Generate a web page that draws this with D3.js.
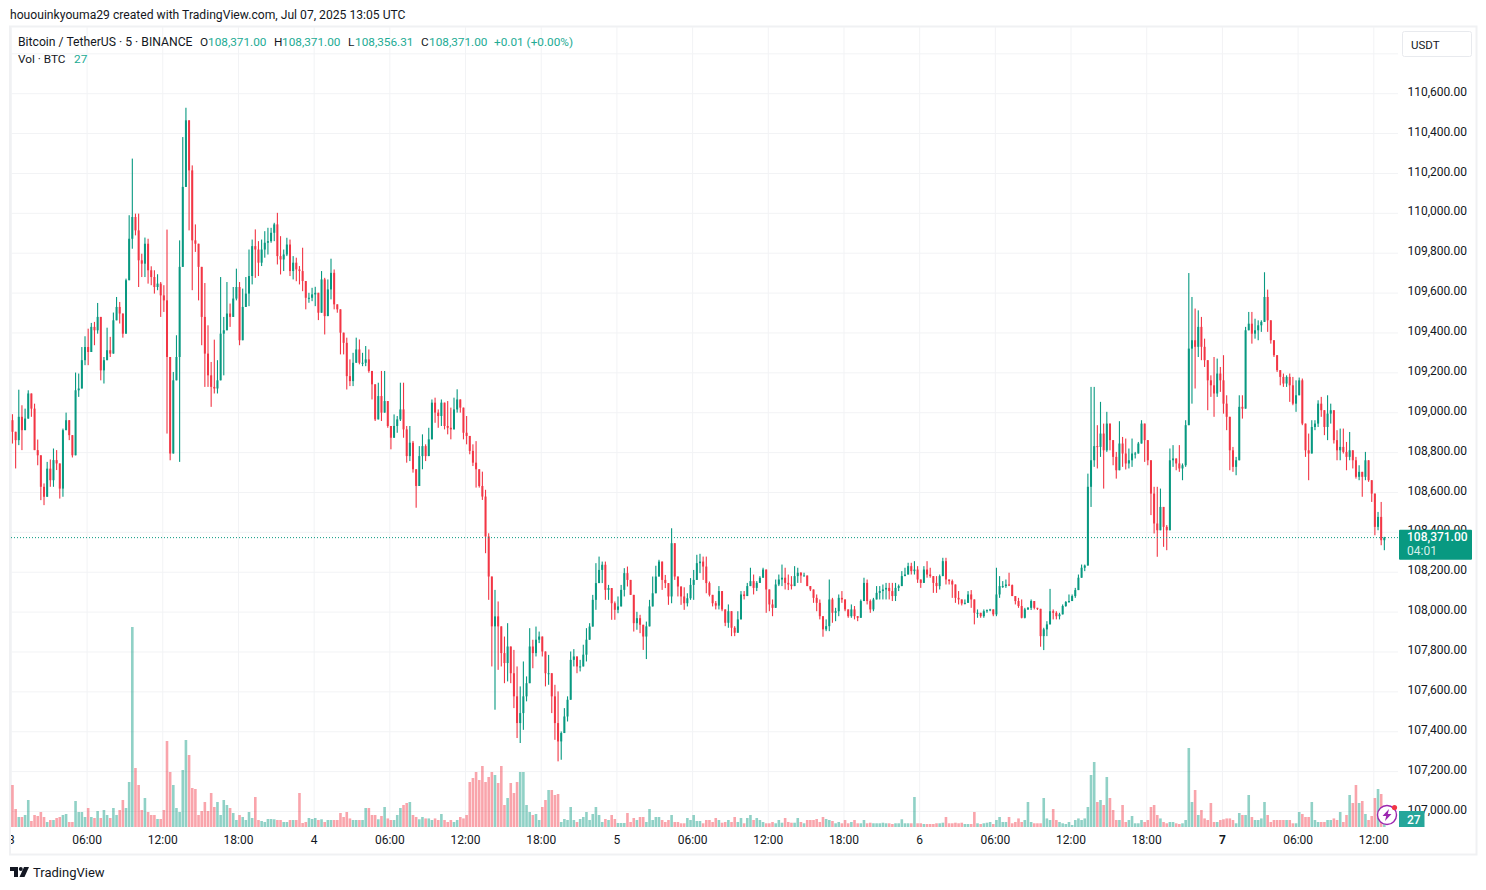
<!DOCTYPE html>
<html>
<head>
<meta charset="utf-8">
<script src="https://cdn.jsdelivr.net/npm/d3@7"></script>
<style>
  html, body { margin: 0; padding: 0; background: #fff; }
  text { font-family: Roboto, sans-serif; fill: #131722; }
</style>
</head>
<body>
<div id="wrapper"></div>
<script>
// 15 minute bars, starting Jul 3 00:00 UTC
const firstOpen = 108960

const highs = [
  108990,108885,109113,109035,109018,109110,109043,109043,108863,108726,
  108643,108751,108763,108818,108810,108701,108918,108998,108951,108873,
  109199,109194,109327,109381,109419,109448,109453,109548,109361,109277,
  109424,109378,109500,109578,109553,109445,109670,109988,110272,109996,
  109996,109795,109876,109870,109732,109712,109692,109653,109637,109916,
  109068,109202,109386,109862,110380,110527,110372,110238,109942,109829,
  109729,109648,109436,109252,109364,109261,109678,109478,109653,109545,
  109628,109720,109653,109620,109678,109816,109866,109917,109858,109866,
  109908,109925,109925,109950,110000,109883,109816,109875,109866,109783,
  109775,109733,109825,109616,109599,109624,109629,109591,109708,109674,
  109666,109770,109716,109541,109499,109374,109374,109265,109298,109374,
  109365,109298,109332,109315,109207,109073,109148,109207,109207,109048,
  108931,108989,108981,109148,109148,108931,108931,108856,108680,108830,
  108889,108839,108922,109064,109073,109014,109064,109023,109056,109023,
  109073,109115,109056,109023,108981,108864,108839,108855,108714,108702,
  108611,108393,108059,108109,108051,107892,107875,107942,107825,107808,
  107725,107625,107750,107675,107917,107859,107925,107900,107875,107800,
  107783,107675,107633,107600,107399,107516,107575,107800,107812,107775,
  107758,107834,107917,107942,108084,108243,108276,108251,108251,108134,
  108118,108051,108076,108134,108218,108226,108159,108084,107999,107984,
  107934,107950,108059,108176,108230,108260,108226,108184,108109,108418,
  108293,108176,108126,108122,108092,108168,108209,108285,108290,108276,
  108276,108151,108076,108053,108128,108061,107986,108036,107944,107927,
  108002,108103,108103,108144,108220,108186,108153,108178,108220,108211,
  108078,108061,108161,108186,108236,108220,108186,108178,108228,108220,
  108198,108195,108178,108128,108111,108086,108061,107977,107961,108161,
  108069,108019,108086,108103,108061,108011,108036,108028,107977,108061,
  108170,108161,108061,108069,108128,108128,108136,108144,108144,108144,
  108144,108136,108203,108220,108245,108245,108253,108228,108161,108228,
  108253,108220,108178,108178,108186,108270,108270,108161,108161,108111,
  108103,108061,108061,108103,108108,108019,108011,107986,108011,108011,
  108014,108011,108220,108178,108153,108161,108195,108136,108078,108069,
  108061,108019,108023,108061,108053,108019,108014,107919,107952,108114,
  108011,108002,107994,108036,108053,108086,108086,108119,108186,108236,
  108236,108692,109127,109127,108935,109052,108943,109002,108943,108826,
  108801,108955,108876,108868,108818,108868,108801,108851,108960,108926,
  108826,108726,108626,108626,108617,108509,108434,108818,108835,108759,
  108835,108743,108960,109698,109578,109520,109511,109478,109369,109236,
  109185,109277,109269,109227,109286,109085,108943,108826,108776,109085,
  109085,109428,109503,109503,109469,109461,109461,109702,109615,109444,
  109361,109286,109202,109194,109185,109194,109177,109160,109174,109169,
  108943,108893,108960,108960,109060,109077,109010,109085,109043,109010,
  108910,108918,108918,108851,108901,108801,108776,108734,108693,108801,
  108759,108642,108559,108500,108550,108375
]

const lows = [
  108843,108718,108835,108810,108918,109000,108977,108810,108734,108559,
  108534,108609,108626,108626,108710,108567,108576,108910,108860,108773,
  108801,109077,109210,109236,109236,109336,109336,109394,109160,109144,
  109294,109277,109378,109461,109445,109374,109394,109745,109820,109887,
  109628,109678,109678,109645,109637,109595,109612,109478,109503,108893,
  108759,109010,109227,108751,109729,110213,109912,109612,109804,109561,
  109336,109127,109127,109027,109094,109094,109160,109185,109411,109428,
  109545,109561,109336,109386,109528,109532,109641,109674,109683,109733,
  109775,109791,109850,109858,109741,109691,109708,109783,109683,109666,
  109657,109641,109607,109516,109549,109557,109532,109462,109499,109390,
  109490,109566,109516,109499,109290,109290,109114,109131,109131,109248,
  109240,109231,109231,109198,109064,108956,108964,108956,108998,108922,
  108814,108872,108897,108956,108872,108747,108755,108697,108521,108663,
  108714,108755,108830,108931,108947,108922,108931,108914,108889,108864,
  108931,108998,108998,108864,108839,108789,108730,108622,108622,108560,
  108293,108059,107725,107508,107708,107725,107641,107650,107641,107516,
  107366,107341,107407,107550,107641,107716,107775,107842,107775,107625,
  107633,107491,107357,107249,107257,107449,107449,107625,107725,107691,
  107700,107742,107750,107892,107934,108009,108159,108143,108059,108059,
  107959,107959,107992,108067,108076,108126,108084,107900,107909,107892,
  107808,107762,107926,108059,108109,108193,108109,108118,108034,108042,
  108159,108076,108034,108009,108026,108059,108059,108184,108193,108159,
  108092,108076,108026,108011,108011,108002,107927,107919,107877,107877,
  107911,108011,108061,108086,108128,108086,108103,108144,108178,107994,
  108002,107977,108028,108128,108128,108111,108108,108111,108144,108144,
  108144,108178,108128,108103,108044,108002,107961,107874,107902,107902,
  107944,107952,107977,108044,108002,107969,107969,107961,107952,107977,
  108053,108036,107994,108002,108061,108061,108061,108061,108061,108053,
  108053,108103,108136,108178,108186,108186,108186,108144,108119,108144,
  108170,108170,108094,108094,108111,108178,108136,108136,108069,108044,
  108036,108031,108036,108044,108019,107936,107969,107969,107969,107994,
  108002,107977,107977,108069,108119,108119,108128,108078,108036,108019,
  107966,107966,108008,108008,108011,108008,107824,107807,107877,107944,
  107961,107961,107961,107986,108024,108044,108053,108069,108119,108170,
  108203,108317,108525,108726,108718,108776,108617,108801,108809,108734,
  108667,108743,108726,108713,108718,108726,108768,108810,108893,108751,
  108734,108484,108392,108275,108467,108325,108308,108459,108726,108709,
  108701,108659,108726,108943,109043,109119,109277,109261,109227,109010,
  109077,108977,109077,109102,108993,108910,108709,108701,108684,108843,
  108968,109018,109419,109344,109369,109361,109403,109453,109403,109344,
  109277,109202,109135,109127,109127,109052,109035,109002,109127,108935,
  108776,108659,108860,108910,108926,108977,108885,108860,108943,108843,
  108759,108759,108793,108709,108759,108718,108667,108659,108576,108659,
  108651,108550,108383,108408,108333,108308
]

const closes = [
  108902,108860,108977,108910,108968,109094,109018,108810,108784,108626,
  108576,108717,108659,108760,108743,108617,108910,108960,108885,108784,
  109110,109119,109261,109327,109302,109428,109411,109478,109210,109261,
  109311,109294,109461,109528,109495,109394,109662,109870,109979,109912,
  109762,109745,109845,109712,109678,109628,109645,109586,109561,109277,
  108793,109160,109277,109729,110130,110464,110213,109862,109845,109729,
  109478,109294,109185,109127,109119,109160,109394,109411,109495,109478,
  109570,109628,109361,109528,109595,109683,109833,109816,109750,109816,
  109850,109858,109900,109942,109783,109766,109791,109841,109708,109750,
  109716,109708,109658,109574,109574,109591,109599,109499,109666,109482,
  109616,109699,109541,109516,109399,109348,109181,109156,109248,109315,
  109248,109248,109265,109207,109140,108964,109081,108998,109056,108931,
  108872,108931,108964,109014,108914,108780,108847,108714,108630,108780,
  108830,108780,108864,109048,108998,108981,109048,108931,108922,108914,
  109014,109064,109023,108897,108881,108806,108747,108714,108630,108577,
  108377,108176,107926,107976,107926,107792,107742,107825,107691,107575,
  107441,107491,107575,107641,107825,107792,107859,107875,107800,107691,
  107691,107575,107441,107349,107391,107474,107558,107758,107775,107725,
  107725,107784,107859,107925,108059,108143,108209,108235,108109,108118,
  108042,108009,108026,108109,108193,108159,108084,107942,107967,107934,
  107875,107926,108026,108092,108176,108251,108159,108143,108076,108343,
  108176,108126,108076,108042,108067,108134,108159,108243,108251,108226,
  108143,108084,108042,108030,108103,108011,107944,108002,107919,107894,
  107961,108086,108078,108128,108153,108119,108144,108170,108211,108111,
  108036,108019,108136,108161,108170,108144,108136,108128,108178,108195,
  108181,108181,108128,108111,108069,108044,107977,107911,107927,108061,
  107994,108002,108069,108061,108011,107977,108011,107977,107969,108053,
  108144,108053,108011,108061,108094,108103,108111,108119,108103,108078,
  108119,108128,108178,108186,108228,108203,108211,108161,108144,108211,
  108186,108178,108144,108128,108178,108253,108161,108153,108136,108069,
  108061,108041,108044,108086,108061,107994,107994,107977,108002,108007,
  108011,107986,108086,108128,108128,108136,108133,108078,108053,108028,
  107969,108011,108019,108053,108019,108014,107877,107911,107936,108002,
  107994,107977,107986,108028,108048,108053,108078,108108,108170,108220,
  108231,108626,108759,108830,108826,108893,108809,108943,108860,108776,
  108709,108843,108793,108743,108759,108793,108793,108843,108943,108860,
  108759,108592,108442,108408,108525,108425,108408,108759,108768,108743,
  108718,108734,108935,109319,109361,109328,109428,109328,109261,109160,
  109135,109094,109194,109160,109043,108977,108809,108726,108759,109027,
  109018,109411,109444,109394,109411,109436,109453,109578,109461,109361,
  109286,109211,109177,109144,109177,109135,109043,109085,109160,108943,
  108809,108793,108926,108943,109043,109010,108926,108993,109010,108860,
  108809,108826,108801,108776,108809,108759,108676,108701,108676,108759,
  108659,108592,108425,108475,108358,108371
]

// volume in BTC
const volumes = [
  294,126,70,70,84,189,42,84,77,105,
  70,35,49,49,63,70,84,91,35,35,
  182,105,105,70,133,70,63,112,63,119,
  84,63,133,84,119,189,133,315,1400,413,
  294,119,203,105,84,84,56,56,119,602,
  385,294,133,105,399,609,504,273,266,84,
  112,175,112,238,140,175,84,189,154,133,
  98,49,84,70,49,105,63,210,49,42,
  35,56,56,54,49,49,35,35,49,49,
  49,238,28,35,63,56,63,49,54,35,
  49,49,49,49,98,70,105,60,49,49,
  49,49,133,133,84,84,54,77,140,60,
  49,49,84,133,154,168,175,84,70,54,
  70,60,60,49,60,49,91,49,35,49,
  35,49,70,60,84,315,343,385,329,427,
  315,350,385,364,308,427,154,203,308,238,
  315,385,385,154,105,84,91,49,140,189,
  259,259,224,231,35,56,49,140,49,35,
  56,70,105,49,91,140,84,35,56,49,
  84,56,28,28,28,98,35,63,49,70,
  70,35,126,49,70,70,49,35,49,84,
  35,35,26,26,63,49,84,42,42,26,
  49,49,35,63,49,30,35,49,35,70,
  35,63,26,63,84,49,63,49,35,26,
  26,35,26,49,30,63,35,30,30,63,
  35,26,49,49,49,56,35,70,56,49,
  42,26,35,26,49,26,35,49,26,26,
  49,26,30,26,26,26,30,26,26,21,
  26,26,54,26,26,26,210,26,26,21,
  21,21,21,26,26,30,70,26,26,30,
  26,30,21,21,21,105,26,21,26,30,
  35,21,49,70,35,35,70,26,35,60,
  35,49,175,35,26,26,26,203,60,49,
  126,49,35,26,21,35,14,49,60,49,
  60,140,364,455,175,189,154,350,203,119,
  49,49,154,35,49,77,26,26,49,35,
  49,140,154,84,60,35,26,35,35,26,
  21,26,49,553,175,259,84,119,60,49,
  168,35,35,49,54,60,60,49,26,98,
  84,84,224,70,49,49,60,175,84,35,
  49,49,49,49,49,49,26,26,105,91,
  70,70,175,49,35,35,35,49,49,60,
  49,105,35,84,224,168,294,168,182,91,
  49,77,203,266,231,27
]

const priceTicks = [107000,107200,107400,107600,107800,108000,108200,108400,108600,108800,109000,109200,109400,109600,109800,110000,110200,110400,110600]
const priceGrid = [...priceTicks, 110800]

const timeTicks = [
  "2025-07-03T00:00Z","2025-07-03T06:00Z","2025-07-03T12:00Z","2025-07-03T18:00Z",
  "2025-07-04T00:00Z","2025-07-04T06:00Z","2025-07-04T12:00Z","2025-07-04T18:00Z",
  "2025-07-05T00:00Z","2025-07-05T06:00Z","2025-07-05T12:00Z","2025-07-05T18:00Z",
  "2025-07-06T00:00Z","2025-07-06T06:00Z","2025-07-06T12:00Z","2025-07-06T18:00Z",
  "2025-07-07T00:00Z","2025-07-07T06:00Z","2025-07-07T12:00Z"
]
const timeLabels = ["3","06:00","12:00","18:00","4","06:00","12:00","18:00","5","06:00","12:00","18:00","6","06:00","12:00","18:00","7","06:00","12:00"]

const lastPrice = 108371
const lastVolume = 27

const legendParts = [
  { text: "Bitcoin / TetherUS · 5 · BINANCE", x: 18 },
  { text: "O", x: 200 }, { text: "108,371.00", x: 208, up: true },
  { text: "H", x: 274 }, { text: "108,371.00", x: 282, up: true },
  { text: "L", x: 348 }, { text: "108,356.31", x: 355, up: true },
  { text: "C", x: 421 }, { text: "108,371.00", x: 429, up: true },
  { text: "+0.01 (+0.00%)", x: 494, up: true },
]

function drawChart() {
  const dimensions = {
    width: 1486,
    height: 890,
    left: 11,
    right: 1398,
    top: 27,
    bottom: 827,
  }
  const upColor = "#089981"
  const downColor = "#f23645"
  const gridColor = "#f2f3f5"
  const textUp = "#22ab94"

  const parseTime = d3.utcParse("%Y-%m-%dT%H:%MZ")
  const startTime = parseTime(timeTicks[0])

  const xScale = d3.scaleUtc()
    .domain([startTime, parseTime(timeTicks[timeTicks.length - 1])])
    .range([10.9, 1373.3])

  const yScale = d3.scaleLinear()
    .domain([107000, 110600])
    .range([811, 93.2])

  const volumeScale = d3.scaleLinear()
    .domain([0, 1400])
    .range([dimensions.bottom, 627])

  const bars = closes.map((close, i) => {
    const open = i === 0 ? firstOpen : closes[i - 1]
    return {
      mid: new Date(startTime.getTime() + (15 * i + 7.5) * 60000),
      open,
      close,
      high: Math.max(highs[i], open, close),
      low: Math.min(lows[i], open, close),
      volume: volumes[i],
    }
  })

  const svg = d3.select("#wrapper")
    .append("svg")
    .attr("width", dimensions.width)
    .attr("height", dimensions.height)
    .style("display", "block")

  svg.append("defs").append("clipPath")
    .attr("id", "time-clip")
    .append("rect")
    .attr("x", dimensions.left)
    .attr("y", dimensions.bottom)
    .attr("width", 1460)
    .attr("height", 30)

  // header above the pane
  svg.append("text")
    .attr("x", 10)
    .attr("y", 18.5)
    .style("font-size", "12.15px")
    .text("hououinkyouma29 created with TradingView.com, Jul 07, 2025 13:05 UTC")

  // pane border
  svg.append("rect")
    .attr("x", 10)
    .attr("y", 26.5)
    .attr("width", 1466.5)
    .attr("height", 828)
    .attr("fill", "none")
    .attr("stroke", "#f0f1f3")
    .attr("stroke-width", 2)

  // grid
  const yGrid = svg.append("g")
    .attr("transform", `translate(${dimensions.left},0)`)
    .call(d3.axisLeft(yScale)
      .tickValues(priceGrid)
      .tickSize(-(dimensions.right - dimensions.left))
      .tickFormat(""))
  const xGrid = svg.append("g")
    .attr("transform", `translate(0,${dimensions.bottom})`)
    .call(d3.axisBottom(xScale)
      .tickValues(timeTicks.map(parseTime))
      .tickSize(-(dimensions.bottom - dimensions.top))
      .tickFormat(""))
  for (const grid of [yGrid, xGrid]) {
    grid.select(".domain").remove()
    grid.selectAll("line").attr("stroke", gridColor)
  }

  // volume
  svg.append("g")
    .selectAll("rect")
    .data(bars)
    .join("rect")
    .attr("x", d => xScale(d.mid) - 1.3)
    .attr("width", 2.6)
    .attr("y", d => volumeScale(d.volume))
    .attr("height", d => dimensions.bottom - volumeScale(d.volume))
    .attr("fill", d => d.close >= d.open ? upColor : downColor)
    .attr("opacity", 0.45)

  // candles
  const candles = svg.append("g")
    .selectAll("g")
    .data(bars)
    .join("g")
    .attr("fill", d => d.close >= d.open ? upColor : downColor)
  candles.append("rect")
    .attr("x", d => xScale(d.mid) - 0.55)
    .attr("width", 1.1)
    .attr("y", d => yScale(d.high))
    .attr("height", d => yScale(d.low) - yScale(d.high))
  candles.append("rect")
    .attr("x", d => xScale(d.mid) - 1)
    .attr("width", 2)
    .attr("y", d => yScale(Math.max(d.open, d.close)))
    .attr("height", d => Math.max(1, Math.abs(yScale(d.open) - yScale(d.close))))

  // last price line
  svg.append("line")
    .attr("x1", dimensions.left)
    .attr("x2", dimensions.right)
    .attr("y1", yScale(lastPrice))
    .attr("y2", yScale(lastPrice))
    .attr("stroke", upColor)
    .attr("stroke-dasharray", "1 2")

  // price axis
  const priceFormat = d3.format(",.2f")
  const priceAxis = svg.append("g")
    .attr("transform", "translate(1467,-1.7)")
    .call(d3.axisRight(yScale)
      .tickValues(priceTicks)
      .tickSize(0)
      .tickFormat(priceFormat))
  priceAxis.select(".domain").remove()
  priceAxis.selectAll("text")
    .attr("x", 0)
    .attr("text-anchor", "end")
    .style("font-size", "12px")
    .style("font-family", "Roboto, sans-serif")
    .attr("fill", "#131722")

  // time axis
  const timeAxis = svg.append("g")
    .attr("clip-path", "url(#time-clip)")
    .append("g")
    .attr("transform", `translate(0,${dimensions.bottom + 5.5})`)
    .call(d3.axisBottom(xScale)
      .tickValues(timeTicks.map(parseTime))
      .tickSize(0)
      .tickFormat((d, i) => timeLabels[i]))
  timeAxis.select(".domain").remove()
  timeAxis.selectAll("text")
    .style("font-size", "12px")
    .style("font-family", "Roboto, sans-serif")
    .style("font-weight", (d, i) => timeLabels[i] === "7" ? 700 : 400)
    .attr("fill", "#131722")

  // legend
  svg.append("g")
    .selectAll("text")
    .data(legendParts)
    .join("text")
    .attr("x", d => d.x)
    .attr("y", 45.5)
    .style("font-size", d => d.x === 18 ? "12.2px" : "11.8px")
    .style("fill", d => d.up ? textUp : "#131722")
    .text(d => d.text)
  svg.append("text")
    .attr("x", 18)
    .attr("y", 62.5)
    .style("font-size", "11.8px")
    .text("Vol · BTC")
  svg.append("text")
    .attr("x", 74)
    .attr("y", 62.5)
    .style("font-size", "11.8px")
    .style("fill", textUp)
    .text(lastVolume)

  // currency button
  svg.append("rect")
    .attr("x", 1402.5)
    .attr("y", 31.5)
    .attr("width", 69)
    .attr("height", 25)
    .attr("rx", 2)
    .attr("fill", "#fff")
    .attr("stroke", "#e8eaee")
  svg.append("text")
    .attr("x", 1411)
    .attr("y", 48.5)
    .style("font-size", "11.5px")
    .text("USDT")

  // last price label
  svg.append("rect")
    .attr("x", 1399)
    .attr("y", yScale(lastPrice) - 8)
    .attr("width", 73)
    .attr("height", 30)
    .attr("rx", 1)
    .attr("fill", upColor)
  svg.append("text")
    .attr("x", 1407)
    .attr("y", yScale(lastPrice) + 3.5)
    .style("font-size", "12px")
    .style("font-weight", 500)
    .style("fill", "#fff")
    .text(priceFormat(lastPrice))
  svg.append("text")
    .attr("x", 1407)
    .attr("y", yScale(lastPrice) + 17.5)
    .style("font-size", "12px")
    .style("fill", "#d6f0ea")
    .text("04:01")

  // volume label
  svg.append("rect")
    .attr("x", 1399)
    .attr("y", 811)
    .attr("width", 25.5)
    .attr("height", 16)
    .attr("fill", "#26a69a")
  svg.append("text")
    .attr("x", 1407)
    .attr("y", 823.5)
    .style("font-size", "12px")
    .style("font-weight", 500)
    .style("fill", "#fff")
    .text(lastVolume)

  // alert badge
  const badge = svg.append("g").attr("transform", "translate(1387,815)")
  badge.append("circle")
    .attr("r", 9.5)
    .attr("fill", "#fff")
    .attr("stroke", "#9c27b0")
    .attr("stroke-width", 1.4)
  badge.append("path")
    .attr("d", "M2,-6 L-4.5,1 L-0.8,1 L-2,6 L4.5,-1 L0.8,-1 Z")
    .attr("fill", "#9c27b0")
  badge.append("circle")
    .attr("cx", 7.5)
    .attr("cy", -7.5)
    .attr("r", 2.6)
    .attr("fill", downColor)

  // logo
  const logo = svg.append("g").attr("fill", "#131722")
  logo.append("path").attr("d", "M10,867 H18 V877 H14 V871 H10 Z")
  logo.append("circle").attr("cx", 20.8).attr("cy", 869).attr("r", 2)
  logo.append("path").attr("d", "M24,867 H29 L24.5,877 H19.5 Z")
  svg.append("text")
    .attr("x", 33)
    .attr("y", 877)
    .style("font-size", "13px")
    .text("TradingView")
}
drawChart()
</script>
</body>
</html>
